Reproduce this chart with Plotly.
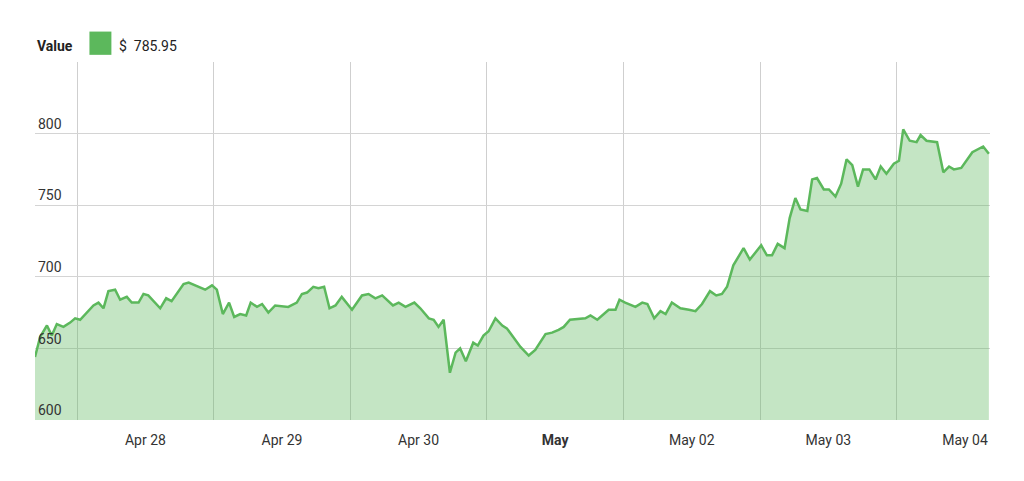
import plotly.graph_objects as go
import pandas as pd

# hours after Apr 28 00:00 and price values
hours = [-7.4, -6.5, -5.3, -4.45, -3.57, -2.4, -1.23, -0.35, 0.53, 1.7, 2.87, 3.75, 4.63, 5.5,
         6.68, 7.56, 8.73, 9.6, 10.8, 11.66, 12.5, 14.6, 15.65, 16.6, 18.7, 19.6, 20.7, 22.5,
         23.7, 24.55, 25.6, 26.7, 27.6, 28.65, 29.7, 30.5, 31.6, 32.5, 33.6, 34.8, 37.1, 38.6,
         39.5, 40.4, 41.5, 42.4, 43.4, 44.35, 45.4, 46.5, 48.3, 49.75,
         50.05, 51.2, 52.4, 53.6, 55.5, 56.5, 57.7, 59.25, 60.3, 61.8, 62.65, 63.5, 64.4, 65.5,
         66.5, 67.3, 68.3, 69.6, 70.4, 71.4, 72.3, 73.5, 74.7, 75.5, 77.9, 79.35, 80.5, 82.3,
         83.45, 84.6, 85.5, 86.6, 89.3, 90.2, 91.4, 93.4, 94.6, 95.3, 96.3, 98.1, 99.3, 100.2,
         101.4, 102.5, 103.4, 104.5, 106,
         107.5, 108.65, 109.8, 111.2, 112.3, 113.3, 114.2, 115.3, 117.1, 118.2, 120.2, 121.2,
         122.1, 123.1, 124.3, 125.2, 126.2, 127.1, 128.3, 129.15, 130, 131.2, 132.1, 133.25,
         134.25, 135.2, 136.2, 137.2, 138.1, 139.2, 140.3, 141.2, 142.2, 143.5, 144.4, 145.15,
         146.3, 147.5, 148.2, 149.25, 151.1, 152.2, 153.2, 154.05, 155.35, 157.3, 159.2, 160.2]
values = [644, 658, 666, 659, 667, 665, 668, 671, 670, 675, 680, 682, 678, 690,
          691, 684, 686, 682, 682, 688, 687, 678, 685, 683, 695, 696, 694, 691,
          694, 691, 674, 682, 672, 674, 673, 682, 679, 681, 675, 680, 679, 682,
          688, 689, 693, 692, 693, 678, 680, 686, 677, 685,
          687, 688, 685, 687, 680, 682, 679, 682, 678, 671, 670, 665, 670, 633,
          647, 650, 641, 654, 652, 659, 662, 671, 666, 664, 651, 645, 649, 660,
          661, 663, 665, 670, 671, 673, 670, 677, 677, 684, 682, 679, 682, 681,
          671, 676, 674, 682, 678,
          677, 676, 681, 690, 687, 688, 693, 708, 720, 712, 722, 715,
          715, 723, 720, 741, 755, 747, 746, 768, 769, 761, 761, 756,
          765, 782, 778, 763, 775, 775, 768, 777, 772, 779, 781, 803,
          795, 794, 799, 795, 794, 773, 777, 775, 776, 787, 791, 785.95]

day_labels = ['Apr 28', 'Apr 29', 'Apr 30', '<b>May</b>', 'May 02', 'May 03', 'May 04']
y_ticks = [600, 650, 700, 750, 800, 850]
y_labels = ['600', '650', '700', '750', '800', '']

base = pd.Timestamp('2016-04-28')
times = [base + pd.Timedelta(hours=h) for h in hours]
noons = [base + pd.Timedelta(days=i, hours=12) for i in range(len(day_labels))]
midnights = [base + pd.Timedelta(days=i) for i in range(len(day_labels))]

fig = go.Figure()
fig.add_trace(go.Scatter(
    x=times, y=values, mode='lines',
    line=dict(color='#5cb85c', width=2.5),
    fill='tozeroy', fillcolor='rgba(92,184,92,0.36)',
    showlegend=False, hoverinfo='skip'
))

fig.update_layout(
    width=1024, height=481,
    margin=dict(l=27, r=42, t=54, b=69),
    plot_bgcolor='white', paper_bgcolor='white',
    font=dict(family='Roboto', size=13, color='#333'),
    xaxis=dict(
        range=[base + pd.Timedelta(hours=-7.4), base + pd.Timedelta(hours=160.4)],
        tickvals=noons, ticktext=day_labels, showgrid=False, ticks='',
        zeroline=False, showline=False, ticklabelstandoff=10,
        minor=dict(tickvals=midnights, showgrid=True, gridcolor='#cfcfcf', gridwidth=1),
        tickfont=dict(size=14, color='#333'),
    ),
    yaxis=dict(
        range=[600, 850], tickvals=y_ticks, ticktext=y_labels,
        ticklabelposition='inside top', showgrid=True, gridcolor='#d4d4d4',
        zeroline=False, showline=False, ticks='',
        tickfont=dict(size=14, color='#333'),
    ),
)

# header legend
fig.add_annotation(xref='paper', yref='paper', x=0, y=1, yshift=26, xanchor='left',
                   text='<b>Value</b>', showarrow=False, font=dict(size=14, color='#222'))
fig.add_shape(type='rect', xref='paper', yref='paper',
              x0=0.057, x1=0.080, y0=1.02, y1=1.085,
              fillcolor='#5cb85c', line=dict(width=0))
fig.add_annotation(xref='paper', yref='paper', x=0.086, y=1, yshift=26, xanchor='left',
                   text='$  785.95', showarrow=False, font=dict(size=14, color='#222'))

fig.write_html("out.html")
